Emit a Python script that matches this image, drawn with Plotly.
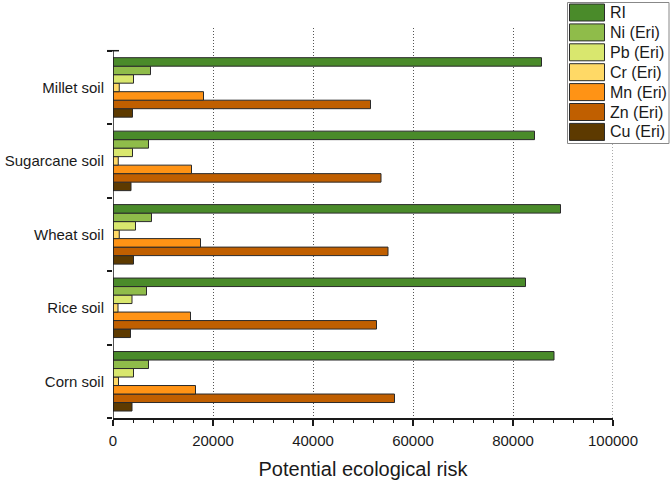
import plotly.graph_objects as go

categories = ["Corn soil", "Rice soil", "Wheat soil", "Sugarcane soil", "Millet soil"]

series_names = ["RI", "Ni (Eri)", "Pb (Eri)", "Cr (Eri)", "Mn (Eri)", "Zn (Eri)", "Cu (Eri)"]
ri_vals = [88200, 82500, 89500, 84300, 85700]
ni_vals = [7100, 6700, 7700, 7100, 7500]
pb_vals = [4100, 3800, 4500, 3900, 4100]
cr_vals = [1100, 1000, 1250, 1050, 1250]
mn_vals = [16500, 15500, 17500, 15700, 18100]
zn_vals = [56300, 52700, 55000, 53600, 51500]
cu_vals = [3800, 3500, 4100, 3600, 3900]
series_values = [ri_vals, ni_vals, pb_vals, cr_vals, mn_vals, zn_vals, cu_vals]
series_colors = ["#4a8b2a", "#8fbc4a", "#d9e76e", "#ffd966", "#ff9315", "#c05f00", "#5d3a00"]

x_ticks = [0, 20000, 40000, 60000, 80000, 100000]

W, H = 670, 480
L, R, T, B = 113, 613, 28, 418

fig = go.Figure()
# plotly puts the first trace at the bottom of the group -> add in reverse
for name, vals, col in reversed(list(zip(series_names, series_values, series_colors))):
    fig.add_trace(go.Bar(
        y=categories, x=vals, name=name, orientation="h",
        marker=dict(color=col, line=dict(color="#2a2a2a", width=1)),
        showlegend=False,
    ))

n_cat = len(categories)
top_extra = (50.7 - T) / ((B - 50.7) / n_cat)

fig.update_layout(
    width=W, height=H,
    margin=dict(l=L, r=W - R, t=T, b=H - B, pad=0),
    plot_bgcolor="white", paper_bgcolor="white",
    barmode="group", bargap=0.19, bargroupgap=0,
    font=dict(family="Liberation Sans, Arial, sans-serif", color="#1a1a1a"),
    xaxis=dict(
        range=[0, 100000], tickvals=x_ticks, ticktext=[str(v) for v in x_ticks],
        showline=True, linecolor="#1a1a1a", linewidth=1.5,
        ticks="outside", ticklen=6, tickwidth=1.5, tickcolor="#1a1a1a",
        minor=dict(dtick=4000, ticks="outside", ticklen=3.5, tickwidth=1.2,
                   tickcolor="#1a1a1a", showgrid=False),
        showgrid=True, gridcolor="#555555", griddash="1px,2px", gridwidth=1,
        zeroline=False, tickfont=dict(size=15), ticklabelstandoff=2, automargin=False,
        title=dict(text="Potential ecological risk", font=dict(size=20), standoff=17),
    ),
    yaxis=dict(
        type="category", categoryorder="array", categoryarray=categories,
        range=[-0.5, n_cat - 0.5 + top_extra],
        showline=False, showgrid=False, zeroline=False, automargin=False,
        ticks="outside", tickson="boundaries", ticklen=5, tickwidth=1.5,
        tickcolor="#1a1a1a", tickfont=dict(size=15), ticklabelstandoff=8,
    ),
)

# gridline at the right end of the x range (plotly omits the edge one)
fig.add_shape(type="line", xref="x", yref="paper", x0=x_ticks[-1], x1=x_ticks[-1],
              y0=0, y1=1, layer="below",
              line=dict(color="#555555", width=1, dash="1px,2px"))
# y axis line only spanning the categories
fig.add_shape(type="line", xref="x", yref="y", x0=0, x1=0, y0=-0.5, y1=n_cat - 0.5,
              line=dict(color="#1a1a1a", width=1.5))
# top cap of y axis
fig.add_shape(type="line", xref="paper", yref="y", x0=-6 / (R - L), x1=6 / (R - L),
              y0=n_cat - 0.5, y1=n_cat - 0.5, line=dict(color="#1a1a1a", width=1.5))

# custom legend (large swatches)
def px_x(p):
    return (p - L) / (R - L)

def px_y(p):
    return (B - p) / (B - T)

leg_x0, leg_x1, leg_y0, leg_y1 = 567.5, 669, 2.5, 143.5
fig.add_shape(type="rect", xref="paper", yref="paper",
              x0=px_x(leg_x0), x1=px_x(leg_x1), y0=px_y(leg_y1), y1=px_y(leg_y0),
              line=dict(color="#888888", width=1), fillcolor="white", layer="above")
row_h = 19.9
for i, (name, col) in enumerate(zip(series_names, series_colors)):
    top = 4 + i * row_h
    fig.add_shape(type="rect", xref="paper", yref="paper",
                  x0=px_x(569.5), x1=px_x(604.5), y0=px_y(top + 17), y1=px_y(top),
                  line=dict(color="#2a2a2a", width=1), fillcolor=col, layer="above")
    fig.add_annotation(xref="paper", yref="paper", x=px_x(608), y=px_y(top + 8.5),
                       text=name, showarrow=False, xanchor="left", yanchor="middle",
                       font=dict(size=16, color="#1a1a1a"))

fig.write_html("out.html", config={"displayModeBar": False},
               post_script="document.body.style.margin='0';document.body.style.overflow='hidden';")
